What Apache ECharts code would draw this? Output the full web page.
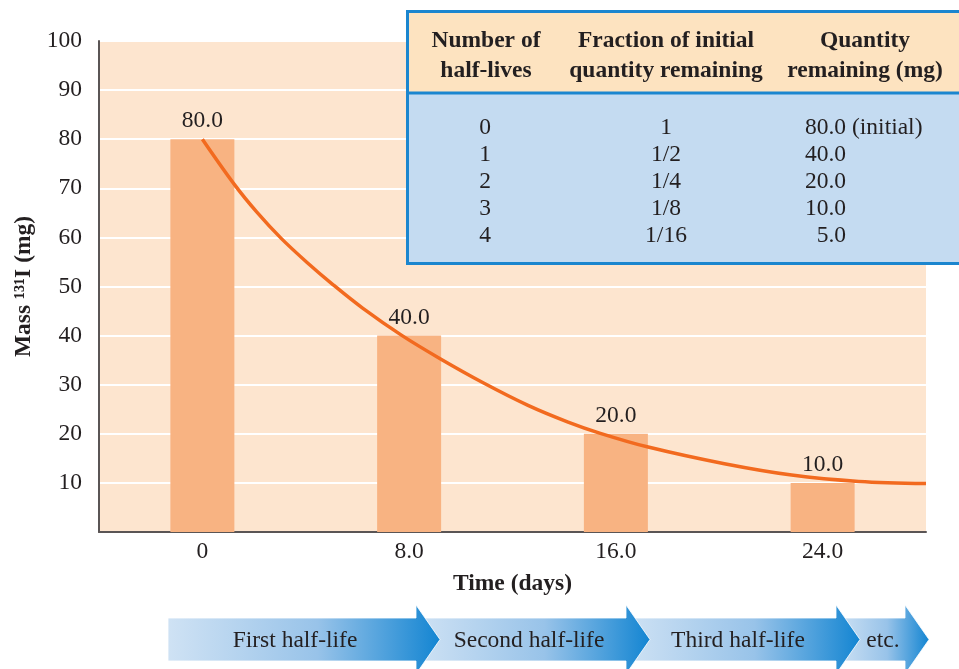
<!DOCTYPE html>
<html>
<head>
<meta charset="utf-8">
<script src="https://cdn.jsdelivr.net/npm/echarts@6/dist/echarts.min.js"></script>
<style>
html,body{margin:0;padding:0;background:#fff;}
#chart{width:959px;height:669px;}
</style>
</head>
<body>
<div id="chart"></div>
<script>
// ---- data ----
var barDays = [0, 8, 16, 24];
var barMass = [80.0, 40.0, 20.0, 10.0];
var curveDays = [0, 1.25, 2.1, 3.05, 4.05, 5.05, 6.2, 7.7, 9.2, 10.9, 12.6, 14.15, 15.4, 17.25, 20.2, 22.8, 25.4, 28];
var curveMass = [80, 70.7, 65.2, 59.8, 54.9, 50.4, 45.6, 40.1, 35.3, 30.3, 25.8, 22.4, 20.1, 17.3, 13.9, 11.6, 10.3, 9.86];
var xTicks = [0, 8, 16, 24];
var tableHeader = [["Number of", "half-lives"], ["Fraction of initial", "quantity remaining"], ["Quantity", "remaining (mg)"]];
var tableHalfLives = ["0", "1", "2", "3", "4"];
var tableFraction = ["1", "1/2", "1/4", "1/8", "1/16"];
var tableQuantity = ["80.0", "40.0", "20.0", "10.0", "5.0"];
var tableNote = ["(initial)", "", "", "", ""];
var arrowLabels = ["First half-life", "Second half-life", "Third half-life", "etc."];

var FONT = '"Liberation Serif", "DejaVu Serif", serif';
var FS = 23.5;
var TXT = '#231f20';

var chart = echarts.init(document.getElementById('chart'));

function buildTable() {
  var els = [];
  var L = 407.5, T = 11.5, W = 600, HB = 93, B = 263.5;
  els.push({type:'rect', shape:{x:L, y:T, width:W, height:HB-T}, style:{fill:'#fde3c0'}, z:100});
  els.push({type:'rect', shape:{x:L, y:HB, width:W, height:B-HB}, style:{fill:'#c4dbf1'}, z:100});
  els.push({type:'rect', shape:{x:L, y:T, width:W, height:B-T}, style:{fill:null, stroke:'#1b86cf', lineWidth:3}, z:102});
  els.push({type:'line', shape:{x1:L, y1:HB, x2:L+W, y2:HB}, style:{stroke:'#1b86cf', lineWidth:3}, z:102});
  var colX = [486, 666, 865];
  for (var c = 0; c < 3; c++) {
    for (var r = 0; r < 2; r++) {
      els.push({type:'text', x:colX[c], y:[41, 71][r], z:103,
        style:{text:tableHeader[c][r], font:'bold ' + FS + 'px ' + FONT, fill:TXT, align:'center', verticalAlign:'middle'}});
    }
  }
  var rowY = [128, 155, 182, 208.5, 235.5];
  for (var i = 0; i < tableHalfLives.length; i++) {
    els.push({type:'text', x:485, y:rowY[i], z:103, style:{text:tableHalfLives[i], font:FS + 'px ' + FONT, fill:TXT, align:'center', verticalAlign:'middle'}});
    els.push({type:'text', x:666, y:rowY[i], z:103, style:{text:tableFraction[i], font:FS + 'px ' + FONT, fill:TXT, align:'center', verticalAlign:'middle'}});
    els.push({type:'text', x:846, y:rowY[i], z:103, style:{text:tableQuantity[i], font:FS + 'px ' + FONT, fill:TXT, align:'right', verticalAlign:'middle'}});
    if (tableNote[i]) {
      els.push({type:'text', x:852, y:rowY[i], z:103, style:{text:tableNote[i], font:FS + 'px ' + FONT, fill:TXT, align:'left', verticalAlign:'middle'}});
    }
  }
  return els;
}

function buildArrows() {
  var els = [];
  var spec = [
    {x0:168, xb:416, xt:440, tx:295},
    {x0:416, xb:626, xt:650, tx:529},
    {x0:626, xb:836, xt:860, tx:738},
    {x0:836, xb:905, xt:929, tx:883}
  ];
  var yTop = 618, yBot = 661, tTop = 605, tBot = 674, yMid = 639.5;
  for (var i = 0; i < spec.length; i++) {
    var s = spec[i];
    var z = 50 - i * 2;
    els.push({type:'polygon', z:z,
      shape:{points:[[s.x0,yTop],[s.xb,yTop],[s.xb,tTop],[s.xt,yMid],[s.xb,tBot],[s.xb,yBot],[s.x0,yBot]]},
      style:{
        fill: new echarts.graphic.LinearGradient(s.x0, 0, s.xt, 0, [
          {offset:0, color:'#cfe2f4'},
          {offset:0.55, color:'#98c3e9'},
          {offset:1, color:'#1385d2'}
        ], true),
        stroke:'rgba(255,255,255,0.8)', lineWidth:1
      }});
    els.push({type:'text', z:z + 1, x:s.tx, y:yMid + 1,
      style:{text:arrowLabels[i], font:FS + 'px ' + FONT, fill:TXT, align:'center', verticalAlign:'middle'}});
  }
  return els;
}

var option = {
  backgroundColor: '#ffffff',
  animation: false,
  grid: {left: 99, right: 33, top: 41, bottom: 137, show: true, backgroundColor: '#fde5cf', borderWidth: 0},
  xAxis: {
    type: 'value', min: -4, max: 28,
    axisLine: {show: true, onZero: false, lineStyle: {color: '#5a5555', width: 2}},
    axisTick: {show: false},
    splitLine: {show: false},
    axisLabel: {customValues: xTicks, margin: 8, fontFamily: FONT, fontSize: FS, color: TXT,
      formatter: function (v) { return v === 0 ? '0' : v.toFixed(1); }},
    name: 'Time (days)', nameLocation: 'middle', nameGap: 40,
    nameTextStyle: {fontFamily: FONT, fontSize: FS, fontWeight: 'bold', color: TXT}
  },
  yAxis: {
    type: 'value', min: 0, max: 100, interval: 10,
    axisLine: {show: true, onZero: false, lineStyle: {color: '#5a5555', width: 2}},
    axisTick: {show: false},
    splitLine: {show: true, lineStyle: {color: '#ffffff', width: 2}},
    axisLabel: {margin: 17, fontFamily: FONT, fontSize: FS, color: TXT,
      formatter: function (v) { return v === 0 ? '' : String(v); }},
    name: 'Mass \u00b9\u00b3\u00b9I (mg)', nameLocation: 'middle', nameGap: 60, nameRotate: 90,
    nameTextStyle: {fontFamily: FONT, fontSize: FS, fontWeight: 'bold', color: TXT}
  },
  series: [
    {
      type: 'bar', barWidth: 64, z: 2,
      data: barDays.map(function (d, i) { return [d, barMass[i]]; }),
      itemStyle: {color: '#f8b382'},
      label: {show: true, position: 'top', distance: 6, fontFamily: FONT, fontSize: FS, color: TXT,
        formatter: function (p) { return p.value[1].toFixed(1); }}
    },
    {
      type: 'line', smooth: 0.35, showSymbol: false, z: 3,
      data: curveDays.map(function (d, i) { return [d, curveMass[i]]; }),
      lineStyle: {color: '#f26a1f', width: 3.5}
    }
  ],
  graphic: buildTable().concat(buildArrows())
};
chart.setOption(option);
</script>
</body>
</html>
